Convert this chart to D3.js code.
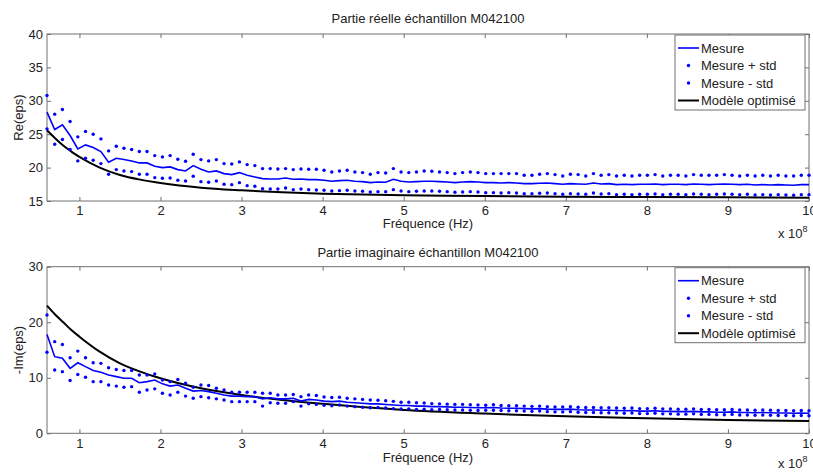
<!DOCTYPE html>
<html><head><meta charset="utf-8">
<script src="https://cdn.jsdelivr.net/npm/d3@7"></script>
<style>
body{margin:0;background:#fff}
svg{display:block}
text{font-family:"Liberation Sans",Arial,sans-serif;fill:#222}
</style>
</head><body>
<svg id="c" width="813" height="472"></svg>
<script>
// Frequencies (x 1e8 Hz)
const freq = [0.600,0.695,0.790,0.885,0.980,1.075,1.170,1.265,1.360,1.455,
1.549,1.644,1.739,1.834,1.929,2.024,2.119,2.214,2.309,2.404,
2.499,2.594,2.689,2.784,2.879,2.974,3.069,3.164,3.259,3.354,
3.448,3.543,3.638,3.733,3.828,3.923,4.018,4.113,4.208,4.303,
4.398,4.493,4.588,4.683,4.778,4.873,4.968,5.063,5.158,5.253,
5.347,5.442,5.537,5.632,5.727,5.822,5.917,6.012,6.107,6.202,
6.297,6.392,6.487,6.582,6.677,6.772,6.867,6.962,7.057,7.152,
7.246,7.341,7.436,7.531,7.626,7.721,7.816,7.911,8.006,8.101,
8.196,8.291,8.386,8.481,8.576,8.671,8.766,8.861,8.956,9.051,
9.145,9.240,9.335,9.430,9.525,9.620,9.715,9.810,9.905,10.000];

// Real part
const reMesure = [28.3,25.7,26.4,24.8,22.8,23.4,23.0,22.4,20.8,21.4,
21.2,21.0,20.7,20.7,20.2,20.0,20.1,19.7,19.5,20.3,
19.75,19.35,19.5,19.1,18.95,19.25,18.85,18.6,18.35,18.3,
18.3,18.45,18.25,18.3,18.2,18.2,18.1,17.95,18.05,18.1,
17.95,17.9,17.75,17.85,17.8,18.25,17.95,17.85,17.9,17.95,
17.95,17.9,17.85,17.75,17.85,17.9,17.85,17.75,17.75,17.7,
17.75,17.7,17.6,17.6,17.65,17.7,17.6,17.5,17.6,17.55,
17.5,17.7,17.55,17.6,17.45,17.5,17.45,17.5,17.5,17.55,
17.45,17.5,17.5,17.45,17.55,17.5,17.45,17.5,17.55,17.5,
17.45,17.5,17.4,17.45,17.4,17.45,17.4,17.35,17.45,17.45];
const reUp = [30.8,28.0,28.7,26.9,24.6,25.4,25.0,24.3,22.5,23.2,
22.9,22.7,22.4,22.4,21.8,21.6,21.8,21.25,20.95,22.0,
21.2,21.0,21.2,20.6,20.55,20.85,20.45,20.3,19.85,19.85,
19.8,19.85,19.7,19.8,19.75,19.75,19.6,19.35,19.5,19.6,
19.35,19.25,19.0,19.25,19.2,19.85,19.35,19.25,19.35,19.5,
19.45,19.35,19.25,19.1,19.25,19.35,19.25,19.1,19.1,19.1,
19.1,19.1,18.85,18.85,19.0,19.1,18.95,18.75,19.0,18.95,
18.75,19.1,18.85,18.95,18.75,18.85,18.75,18.85,18.85,18.95,
18.75,18.85,18.85,18.75,18.95,18.85,18.85,18.85,18.95,18.85,
18.75,18.85,18.75,18.85,18.75,18.85,18.75,18.75,18.85,18.85];
const reLow = [25.8,23.5,24.2,22.7,21.0,21.4,21.1,20.6,19.0,19.7,
19.5,19.4,19.0,19.0,18.5,18.4,18.45,18.1,18.0,18.7,
17.9,17.8,18.0,17.5,17.45,17.75,17.3,17.2,16.85,16.8,
16.8,16.95,16.7,16.8,16.7,16.65,16.6,16.5,16.55,16.6,
16.5,16.45,16.35,16.4,16.4,16.7,16.5,16.4,16.45,16.5,
16.5,16.45,16.4,16.3,16.35,16.4,16.35,16.25,16.25,16.2,
16.25,16.2,16.1,16.1,16.15,16.2,16.1,16.0,16.1,16.05,
16.0,16.2,16.05,16.1,15.95,16.0,15.95,16.0,16.0,16.05,
15.95,16.0,16.0,15.95,16.05,16.0,15.95,16.0,16.05,16.0,
15.95,16.0,15.9,15.95,15.9,15.95,15.9,15.85,15.95,15.95];

// Imaginary part (-Im)
const imMesure = [17.8,13.8,13.5,11.7,12.7,12.0,11.3,11.0,10.5,10.2,
9.9,9.9,9.1,9.3,9.6,8.9,8.5,8.7,8.1,7.6,
7.7,7.5,7.2,6.9,6.7,6.7,6.6,6.6,6.2,6.4,
6.2,6.2,6.3,5.8,6.1,6.0,5.8,5.7,5.8,5.6,
5.5,5.4,5.3,5.3,5.2,5.1,5.0,5.0,4.9,4.9,
4.8,4.8,4.75,4.7,4.7,4.65,4.6,4.6,4.65,4.55,
4.5,4.5,4.45,4.4,4.45,4.35,4.3,4.3,4.35,4.25,
4.2,4.2,4.15,4.15,4.1,4.05,4.1,4.0,4.0,4.05,
3.95,3.95,3.9,3.9,3.95,3.85,3.85,3.8,3.8,3.85,
3.75,3.75,3.7,3.75,3.7,3.65,3.65,3.6,3.65,3.6];
const imUp = [21.3,16.5,16.0,13.6,14.8,13.6,12.7,12.6,11.8,11.5,
11.3,11.3,10.5,10.5,10.7,9.6,9.3,9.7,9.0,8.3,
8.7,8.6,8.1,7.8,7.4,7.4,7.4,7.4,7.2,7.2,
6.9,6.9,7.0,6.6,6.9,6.8,6.55,6.45,6.5,6.3,
6.2,6.1,6.0,5.95,5.85,5.75,5.6,5.6,5.5,5.45,
5.35,5.3,5.25,5.2,5.2,5.15,5.1,5.05,5.15,5.0,
4.95,4.95,4.9,4.85,4.9,4.8,4.75,4.75,4.8,4.7,
4.65,4.65,4.6,4.6,4.55,4.5,4.55,4.45,4.45,4.5,
4.4,4.4,4.35,4.35,4.4,4.3,4.3,4.25,4.25,4.3,
4.2,4.2,4.15,4.2,4.15,4.1,4.1,4.05,4.1,4.05];
const imLow = [14.6,11.4,11.1,9.5,10.6,10.1,9.3,9.3,8.7,8.5,
8.3,8.4,7.4,7.8,8.0,7.2,6.9,7.4,6.7,6.3,
6.6,6.4,6.2,6.0,5.7,5.7,5.7,5.7,4.9,5.5,
5.4,5.4,5.7,4.9,5.3,5.2,5.05,4.95,5.1,4.9,
4.8,4.7,4.6,4.65,4.55,4.45,4.4,4.4,4.3,4.35,
4.25,4.3,4.25,4.2,4.2,4.15,4.1,4.15,4.15,4.1,
4.05,4.05,4.0,3.95,4.0,3.9,3.85,3.85,3.9,3.8,
3.75,3.75,3.7,3.7,3.65,3.6,3.65,3.55,3.55,3.6,
3.5,3.5,3.45,3.45,3.5,3.4,3.4,3.35,3.35,3.4,
3.3,3.3,3.25,3.3,3.25,3.2,3.2,3.15,3.2,3.15];

// Optimised model
const modelFreq = [0.6,0.7,0.8,0.9,1.0,1.25,1.5,1.75,2.0,2.5,3.0,3.5,4.0,5.0,6.0,7.0,8.0,9.0,10.0];
const modelRe = [25.6,24.4,23.3,22.4,21.6,20.0,18.9,18.2,17.7,17.0,16.6,16.3,16.1,15.85,15.75,15.65,15.6,15.55,15.5];
const modelIm = [23.0,21.4,20.0,18.6,17.4,14.7,12.6,11.1,9.9,8.1,6.9,6.0,5.3,4.2,3.55,3.05,2.7,2.4,2.2];

const xTicks = [1,2,3,4,5,6,7,8,9,10];
const reTicks = [15,20,25,30,35,40];
const imTicks = [0,10,20,30];
const legendLabels = ["Mesure","Mesure + std","Mesure - std","Modèle optimisé"];

const svg = d3.select("#c");
const X0 = 47, X1 = 809;
const BLUE = "#0000ff", AX = "#707070";

function panel(o){
  const x = d3.scaleLinear().domain([0.6,10]).range([X0,X1]);
  const y = d3.scaleLinear().domain(o.yDomain).range([o.bottom,o.top]);
  const g = svg.append("g");
  const gx = g.append("g").attr("transform",`translate(0,${o.bottom})`)
    .call(d3.axisBottom(x).tickValues(xTicks).tickSizeInner(-4).tickSizeOuter(0).tickPadding(5).tickFormat(d3.format("d")));
  const gxt = g.append("g").attr("transform",`translate(0,${o.top})`)
    .call(d3.axisTop(x).tickValues(xTicks).tickSizeInner(-4).tickSizeOuter(0).tickFormat(""));
  const gy = g.append("g").attr("transform",`translate(${X0},0)`)
    .call(d3.axisLeft(y).tickValues(o.yTicks).tickSizeInner(-4).tickSizeOuter(0).tickPadding(4).tickFormat(d3.format("d")));
  const gyr = g.append("g").attr("transform",`translate(${X1},0)`)
    .call(d3.axisRight(y).tickValues(o.yTicks).tickSizeInner(-4).tickSizeOuter(0).tickFormat(""));
  [gx,gxt,gy,gyr].forEach(a=>{
    a.select(".domain").remove();
    a.selectAll(".tick line").attr("stroke",AX);
    a.selectAll("text").attr("font-size",13).attr("fill","#222")
      .attr("font-family","Liberation Sans, Arial, sans-serif");
  });
  g.append("rect").attr("x",X0).attr("y",o.top).attr("width",X1-X0).attr("height",o.bottom-o.top)
    .attr("fill","none").attr("stroke",AX).attr("stroke-width",1);

  const pts = (arr)=>freq.map((f,i)=>[f,arr[i]]);
  g.append("path").datum(modelFreq.map((f,i)=>[f,o.model[i]]))
    .attr("d",d3.line().x(d=>x(d[0])).y(d=>y(d[1])).curve(d3.curveMonotoneX))
    .attr("fill","none").attr("stroke","#000").attr("stroke-width",2);
  g.append("path").datum(pts(o.mes)).attr("d",d3.line().x(d=>x(d[0])).y(d=>y(d[1])))
    .attr("fill","none").attr("stroke",BLUE).attr("stroke-width",1.6);
  [o.up,o.lo].forEach(arr=>{
    g.append("g").selectAll("circle").data(pts(arr)).join("circle")
      .attr("cx",d=>x(d[0])).attr("cy",d=>y(d[1])).attr("r",1.7).attr("fill",BLUE);
  });
  g.append("text").attr("x",(X0+X1)/2).attr("y",o.titleY).attr("text-anchor","middle").attr("font-size",13).text(o.title);
  g.append("text").attr("x",(X0+X1)/2).attr("y",o.xlabY).attr("text-anchor","middle").attr("font-size",13).text("Fréquence (Hz)");
  const ex = g.append("text").attr("x",778).attr("y",o.expY).attr("font-size",13);
  ex.append("tspan").text("x 10");
  ex.append("tspan").attr("font-size",9).attr("dy",-6).text("8");
  g.append("text").attr("transform",`translate(22.5,${(o.top+o.bottom)/2})rotate(-90)`)
    .attr("text-anchor","middle").attr("font-size",13).text(o.ylabel);
  const L = g.append("g").attr("transform",`translate(675,${o.top+1})`);
  L.append("rect").attr("width",130).attr("height",75).attr("fill","#fff").attr("stroke",AX);
  legendLabels.forEach((lab,i)=>{
    const yy = 13 + i*17.5;
    if(i===0||i===3){
      L.append("line").attr("x1",3).attr("x2",24).attr("y1",yy).attr("y2",yy)
        .attr("stroke",i===0?BLUE:"#000").attr("stroke-width",i===0?1.6:2);
    } else {
      L.append("circle").attr("cx",13.5).attr("cy",yy).attr("r",1.7).attr("fill",BLUE);
    }
    L.append("text").attr("x",26).attr("y",yy+4.6).attr("font-size",13).text(lab);
  });
}

panel({top:34,bottom:201,yDomain:[15,40],yTicks:reTicks,title:"Partie réelle échantillon M042100",
  ylabel:"Re(eps)",mes:reMesure,up:reUp,lo:reLow,model:modelRe,titleY:22.5,xlabY:227.5,expY:238});
panel({top:266.7,bottom:433.3,yDomain:[0,30],yTicks:imTicks,title:"Partie imaginaire échantillon M042100",
  ylabel:"-Im(eps)",mes:imMesure,up:imUp,lo:imLow,model:modelIm,titleY:256.5,xlabY:462,expY:468});
</script>
</body></html>
